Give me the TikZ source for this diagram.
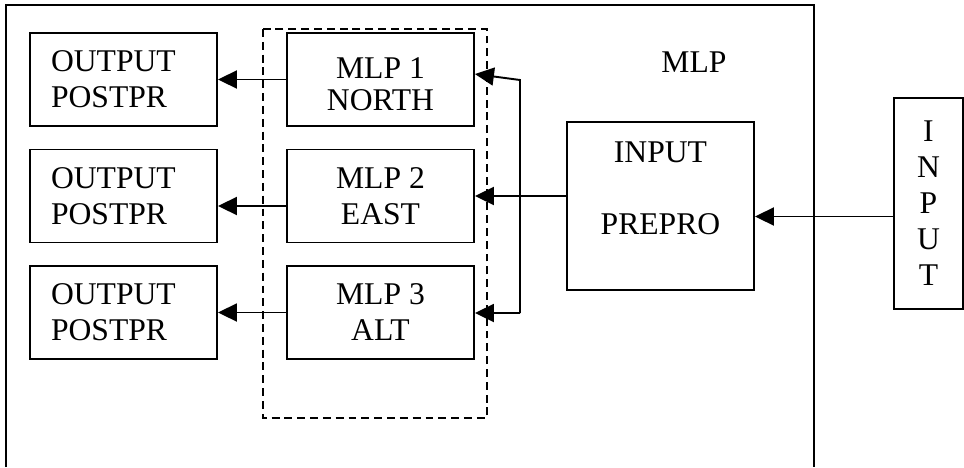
\documentclass[tikz,border=0pt]{standalone}
\usepackage{fontspec}
\setmainfont{Liberation Serif}
\usetikzlibrary{arrows.meta}

\begin{document}
\begin{tikzpicture}[x=0.02cm,y=-0.02cm,line width=1.1pt,>={Triangle[length=0.38cm,width=0.36cm]},
  font=\fontsize{18pt}{20.5pt}\selectfont,
  blk/.style={draw,minimum width=3.74cm,minimum height=1.86cm,align=center,inner sep=0pt},
  outblk/.style={blk,align=left,text width=2.9cm,inner xsep=0.42cm}]
\useasboundingbox (0,0) rectangle (964,467);

% outer frame (open at the bottom)
\draw (6,467) |- (814,5) -- (814,467);
\node (mlptitle) at (694,62) {MLP};

% group of the three nets
\draw[dash pattern=on 4.5pt off 2.8pt] (263,29) rectangle (487,418);

% nets and their postprocessing
\node[blk] (mlp1) at (380.5,79.5) {};
\node[align=center,inner sep=0pt] (mlp1txt) at (380.5,84) {MLP 1\\[-2.5pt]NORTH};
\foreach \i/\y/\dir in {2/196/EAST,3/312.5/ALT}
  \node[blk] (mlp\i) at (380.5,\y) {MLP \i\\\dir};
\foreach \i/\y in {1/79.5,2/196,3/312.5}
  \node[outblk] (out\i) at (123.5,\y) {OUTPUT\\POSTPR};

% preprocessing and input
\node[blk,minimum height=3.36cm] (prep) at (660.5,206) {INPUT\\\mbox{}\\PREPRO\\\mbox{}};
\node[blk,minimum width=1.38cm,minimum height=4.22cm] (inbox) at (928.5,203.5) {I\\N\\P\\U\\T};

% connections
\draw[->] (mlp1) -- (out1);
\draw[->] ([yshift=-0.2cm]mlp2.west) -- ([yshift=-0.2cm]out2.east);
\draw[->] (mlp3) -- (out3);

\coordinate (bustop) at (520,80);
\coordinate (busbot) at (520,313);
\draw[->] (busbot) -- (bustop) -- ([yshift=0.11cm]mlp1.east);
\draw[->] (busbot) -- (busbot -| mlp3.east);
\draw[->] (prep.west |- mlp2.east) -- (mlp2.east);
\coordinate (inpt) at ([yshift=-0.26cm]inbox.west);
\draw[->] (inpt) -- (inpt -| prep.east);
\end{tikzpicture}
\end{document}
